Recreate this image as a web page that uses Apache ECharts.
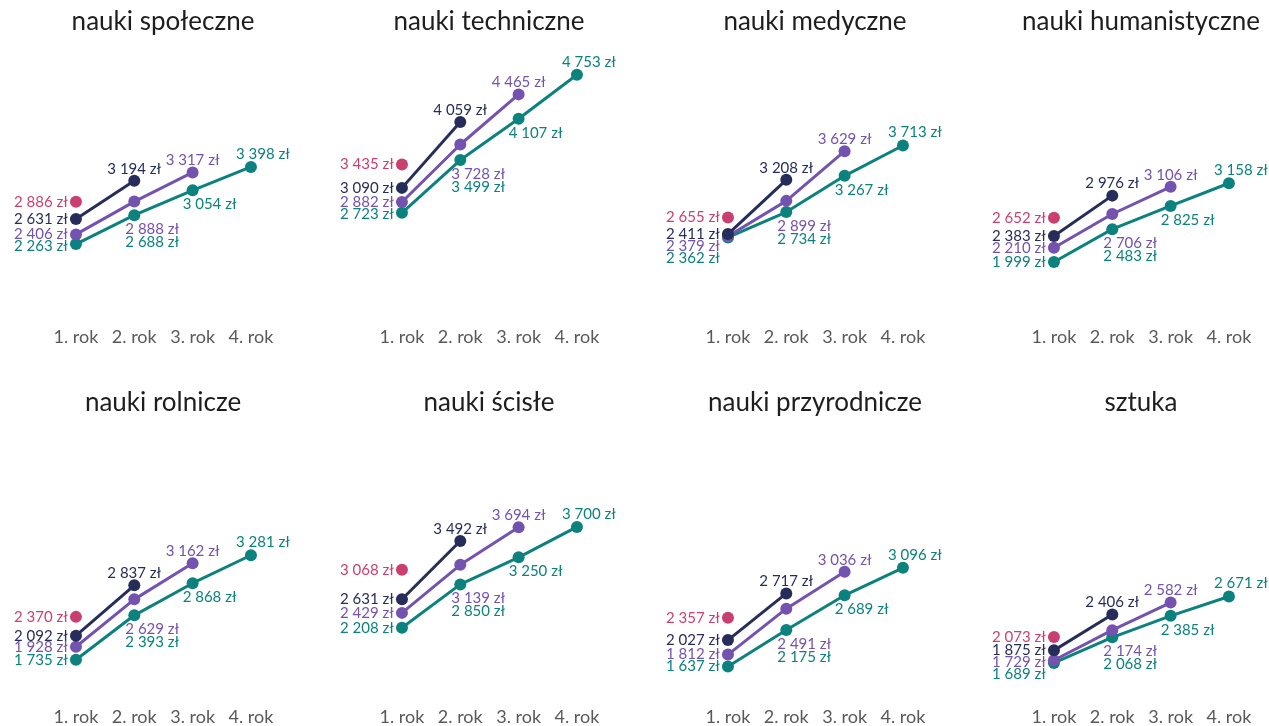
<!DOCTYPE html>
<html>
<head>
<meta charset="utf-8">
<script src="https://cdn.jsdelivr.net/npm/echarts@6/dist/echarts.min.js"></script>
<style>
html,body{margin:0;padding:0;background:#fff;}
#c{width:1269px;height:726px;}
</style>
</head>
<body>
<div id="c"></div>
<script>
var categories = ['1. rok', '2. rok', '3. rok', '4. rok'];
var titles = ['nauki społeczne', 'nauki techniczne', 'nauki medyczne', 'nauki humanistyczne',
              'nauki rolnicze', 'nauki ścisłe', 'nauki przyrodnicze', 'sztuka'];
var redValues = [2886, 3435, 2655, 2652, 2370, 3068, 2357, 2073];
var navyValues = [[2631, 3194], [3090, 4059], [2411, 3208], [2383, 2976],
                  [2092, 2837], [2631, 3492], [2027, 2717], [1875, 2406]];
var purpleValues = [[2406, 2888, 3317], [2882, 3728, 4465], [2379, 2899, 3629], [2210, 2706, 3106],
                    [1928, 2629, 3162], [2429, 3139, 3694], [1812, 2491, 3036], [1729, 2174, 2582]];
var tealValues = [[2263, 2688, 3054, 3398], [2723, 3499, 4107, 4753], [2362, 2734, 3267, 3713], [1999, 2483, 2825, 3158],
                  [1735, 2393, 2868, 3281], [2208, 2850, 3250, 3700], [1637, 2175, 2689, 3096], [1689, 2068, 2385, 2671]];

(function () {
var C_RED = '#BC0F4C', C_NAVY = '#272D5A', C_PURPLE = '#7452B0', C_TEAL = '#0C827F';
var FONT = 'Lato';
var yMin = 1200, yMax = 5000;
var gridH = 258.4, gridW = 233.3;
var k = gridH / (yMax - yMin);

function fmt(v) {
  return String(v).replace(/\B(?=(\d{3})+(?!\d))/g, ' ') + ' zł';
}
function fmtData(d) {
  var v = Array.isArray(d.value) ? d.value[1] : d.value;
  return fmt(v);
}
function leftLabel(dy, color) {
  return { show: true, position: 'left', distance: 2, offset: [0, dy], color: color,
           fontFamily: FONT, fontSize: 15, formatter: fmtData };
}
function inLabel(dx, dy, color) {
  return { show: true, position: 'inside', offset: [dx, dy], color: color,
           fontFamily: FONT, fontSize: 15, formatter: fmtData };
}

var chart = echarts.init(document.getElementById('c'));
var option = {
  backgroundColor: '#ffffff',
  animation: false,
  title: [], grid: [], xAxis: [], yAxis: [], series: []
};

for (var p = 0; p < 8; p++) {
  var col = p % 4, row = Math.floor(p / 4);
  var gLeft = 46.8 + 326 * col;
  var gTop = 58 + 381 * row;
  option.title.push({
    text: titles[p], left: 158 + 326 * col, top: 4 + 381 * row, textAlign: 'center',
    textStyle: { fontFamily: FONT, fontSize: 26, fontWeight: 'normal', color: '#1e1e1e' }
  });
  option.grid.push({ left: gLeft, top: gTop, width: gridW, height: gridH });
  option.xAxis.push({
    type: 'category', gridIndex: p, data: categories, boundaryGap: true,
    axisLine: { show: false }, axisTick: { show: false }, splitLine: { show: false },
    axisLabel: { interval: 0, margin: 12, fontFamily: FONT, fontSize: 18, color: '#595959' }
  });
  option.yAxis.push({
    type: 'value', gridIndex: p, min: yMin, max: yMax, show: false, splitLine: { show: false }
  });

  var firsts = [
    { key: 'red', v: redValues[p] },
    { key: 'navy', v: navyValues[p][0] },
    { key: 'purple', v: purpleValues[p][0] },
    { key: 'teal', v: tealValues[p][0] }
  ].sort(function (a, b) { return b.v - a.v; });
  var prev = -1e9, dyFirst = {};
  for (var i = 0; i < firsts.length; i++) {
    var py = -firsts[i].v * k;
    var ly = Math.max(py, prev + 12);
    dyFirst[firsts[i].key] = ly - py;
    prev = ly;
  }

  var t = tealValues[p], pu = purpleValues[p], n = navyValues[p];

  option.series.push({
    type: 'line', xAxisIndex: p, yAxisIndex: p, z: 2,
    symbol: 'circle', symbolSize: 12, showSymbol: true,
    lineStyle: { color: C_TEAL, width: 3 }, itemStyle: { color: C_TEAL },
    data: [
      { value: t[0], label: leftLabel(dyFirst.teal, C_TEAL) },
      { value: t[1], label: inLabel(18, 27, C_TEAL) },
      { value: t[2], label: inLabel(17, 14, C_TEAL) },
      { value: t[3], label: inLabel(12, -13, C_TEAL) }
    ]
  });
  option.series.push({
    type: 'line', xAxisIndex: p, yAxisIndex: p, z: 3,
    symbol: 'circle', symbolSize: 12, showSymbol: true,
    lineStyle: { color: C_PURPLE, width: 3 }, itemStyle: { color: C_PURPLE },
    data: [
      { value: pu[0], label: leftLabel(dyFirst.purple, C_PURPLE) },
      { value: pu[1], label: inLabel(18, (pu[1] - t[1]) * k + 14, C_PURPLE) },
      { value: pu[2], label: inLabel(0, -12, C_PURPLE) }
    ]
  });
  option.series.push({
    type: 'line', xAxisIndex: p, yAxisIndex: p, z: 4,
    symbol: 'circle', symbolSize: 12, showSymbol: true,
    lineStyle: { color: C_NAVY, width: 3 }, itemStyle: { color: C_NAVY },
    data: [
      { value: n[0], label: leftLabel(dyFirst.navy, C_NAVY) },
      { value: n[1], label: inLabel(0, -12, C_NAVY) }
    ]
  });
  option.series.push({
    type: 'scatter', xAxisIndex: p, yAxisIndex: p, z: 5,
    symbol: 'circle', symbolSize: 12, itemStyle: { color: C_RED },
    data: [{ value: [0, redValues[p]], label: leftLabel(dyFirst.red, C_RED) }]
  });
}
chart.setOption(option);
})();
</script>
</body>
</html>
